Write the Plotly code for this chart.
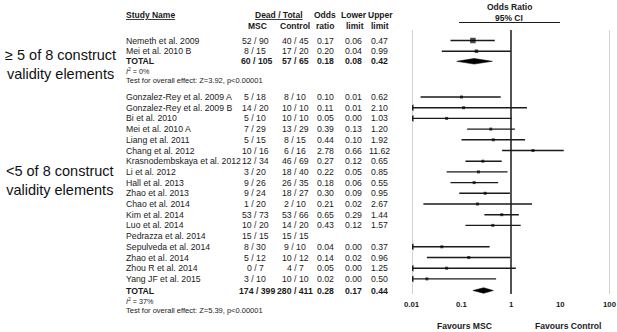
import numpy as np
import plotly.graph_objects as go

W, H = 617, 332
FONT = "Liberation Sans, Arial, sans-serif"
INK = "#1a1a1a"

# ---------------- data ----------------
# group 1: >= 5 of 8 construct validity elements
g1_study = ["Nemeth et al. 2009", "Mei et al. 2010 B"]
g1_msc_dead = [52, 8]
g1_msc_total = [90, 15]
g1_ctl_dead = [40, 17]
g1_ctl_total = [45, 20]
g1_or = [0.17, 0.20]
g1_lo = [0.06, 0.04]
g1_hi = [0.47, 0.99]

# group 2: <5 of 8 construct validity elements
g2_study = ["Gonzalez-Rey et al. 2009 A", "Gonzalez-Rey et al. 2009 B", "Bi et al. 2010",
            "Mei et al. 2010 A", "Liang et al. 2011", "Chang et al. 2012",
            "Krasnodembskaya et al. 2012", "Li et al. 2012", "Hall et al. 2013",
            "Zhao et al. 2013", "Chao et al. 2014", "Kim et al. 2014", "Luo et al. 2014",
            "Pedrazza et al. 2014", "Sepulveda et al. 2014", "Zhao et al. 2014",
            "Zhou R et al. 2014", "Yang JF et al. 2015"]
g2_msc_dead = [5, 14, 5, 7, 5, 10, 12, 3, 9, 9, 1, 53, 10, 15, 8, 5, 0, 3]
g2_msc_total = [18, 20, 10, 29, 15, 16, 34, 20, 26, 24, 20, 73, 20, 15, 30, 12, 7, 10]
g2_ctl_dead = [8, 10, 10, 13, 8, 6, 46, 18, 26, 18, 2, 53, 14, 15, 9, 10, 4, 10]
g2_ctl_total = [10, 10, 10, 29, 15, 16, 69, 40, 35, 27, 10, 66, 20, 15, 10, 12, 7, 10]
g2_or = [0.10, 0.11, 0.05, 0.39, 0.44, 2.78, 0.27, 0.22, 0.18, 0.30, 0.21, 0.65, 0.43,
         None, 0.04, 0.14, 0.05, 0.02]
g2_lo = [0.0149, 0.0057, 0.002, 0.13, 0.10, 0.66, 0.12, 0.05, 0.06, 0.09, 0.017, 0.29, 0.12,
         None, 0.004, 0.02, 0.002, 0.001]
g2_hi = [0.62, 2.10, 1.03, 1.20, 1.92, 11.62, 0.65, 0.85, 0.55, 0.95, 2.67, 1.44, 1.57,
         None, 0.37, 0.96, 1.25, 0.50]

# totals
tot_msc_dead = [60, 174]
tot_msc_total = [105, 399]
tot_ctl_dead = [57, 280]
tot_ctl_total = [65, 411]
tot_or = [0.18, 0.28]
tot_lo = [0.08, 0.17]
tot_hi = [0.42, 0.44]
tot_i2 = ["0%", "37%"]
tot_test = ["Z=3.92, p<0.00001", "Z=5.39, p<0.00001"]

group_labels = ["\u2265 5 of 8 construct<br>validity elements",
                "<5 of 8 construct<br>validity elements"]
tick_vals = [0.01, 0.1, 1, 10, 100]
tick_text = ["0.01", "0.1", "1", "10", "100"]

# ---------------- layout helpers (pixel rows) ----------------
STEP = 10.7
g1_y = [40.5 + STEP * i for i in range(len(g1_study))]
g2_y = [97 + STEP * i for i in range(len(g2_study))]
tot_y = [61.3, 290.5]
i2_y = [71, 300.5]
test_y = [80.5, 310.5]

COL_MSC, COL_CTL, COL_OR, COL_LO, COL_HI = 255, 295, 325, 354, 379

annotations = []


def txt(x, y, s, size=8.7, anchor="left", color=INK, xref="paper", underline=False):
    if not s:
        return
    f = dict(family=FONT, size=size, color=color)
    if underline:
        f["lineposition"] = "under"
    annotations.append(dict(x=x / W if xref == "paper" else x, y=y, xref=xref, yref="y",
                            text=s, showarrow=False, xanchor=anchor, yanchor="middle",
                            borderpad=0, font=f))


def fmt(v):
    return "" if v is None else f"{v:.2f}"


# headers
txt(125, 15, "<b>Study Name</b>", size=8.5, underline=True)
txt(279, 15, "<b>Dead / Total</b>", size=8.5, anchor="center", underline=True)
txt(COL_MSC + 2, 25.5, "<b>MSC</b>", size=8.5, anchor="center")
txt(COL_CTL, 25.5, "<b>Control</b>", size=8.5, anchor="center")
txt(COL_OR, 15, "<b>Odds</b>", size=8.5, anchor="center")
txt(COL_OR, 25.5, "<b>ratio</b>", size=8.5, anchor="center")
txt(COL_LO, 15, "<b>Lower</b>", size=8.5, anchor="center")
txt(COL_LO + 1, 25.5, "<b>limit</b>", size=8.5, anchor="center")
txt(COL_HI + 1, 15, "<b>Upper</b>", size=8.5, anchor="center")
txt(COL_HI + 1, 25.5, "<b>limit</b>", size=8.5, anchor="center")
txt(509, 6.5, "<b>Odds Ratio</b>", size=8.5, anchor="center")
txt(509, 17.5, "<b>95% CI</b>", size=8.5, anchor="center")

# group labels
txt(60, 64.5, group_labels[0], size=14.5, anchor="center", color="#111")
txt(60, 180, group_labels[1], size=14.5, anchor="center", color="#111")


def table_rows(studies, md, mt, cd, ct, orv, lo, hi, ys):
    for s, a, b, c, d, o, l, h, y in zip(studies, md, mt, cd, ct, orv, lo, hi, ys):
        txt(125, y, s)
        txt(COL_MSC, y, f"{a} / {b}", anchor="center")
        txt(COL_CTL, y, f"{c} / {d}", anchor="center")
        txt(COL_OR, y, fmt(o), anchor="center")
        txt(COL_LO, y, fmt(l), anchor="center")
        txt(COL_HI, y, fmt(h), anchor="center")


table_rows(g1_study, g1_msc_dead, g1_msc_total, g1_ctl_dead, g1_ctl_total,
           g1_or, g1_lo, g1_hi, g1_y)
table_rows(g2_study, g2_msc_dead, g2_msc_total, g2_ctl_dead, g2_ctl_total,
           g2_or, g2_lo, g2_hi, g2_y)

for k in range(2):
    y = tot_y[k]
    txt(125, y, "<b>TOTAL</b>")
    txt(COL_MSC + 2, y, f"<b>{tot_msc_dead[k]} / {tot_msc_total[k]}</b>", anchor="center")
    txt(COL_CTL, y, f"<b>{tot_ctl_dead[k]} / {tot_ctl_total[k]}</b>", anchor="center")
    txt(COL_OR, y, f"<b>{fmt(tot_or[k])}</b>", anchor="center")
    txt(COL_LO, y, f"<b>{fmt(tot_lo[k])}</b>", anchor="center")
    txt(COL_HI, y, f"<b>{fmt(tot_hi[k])}</b>", anchor="center")
    txt(125, i2_y[k], f"<i>I</i><sup>2</sup> = {tot_i2[k]}", size=7.2)
    txt(125, test_y[k], f"Test for overall effect: {tot_test[k]}", size=7.5)

# axis tick labels and favours labels
for v, t in zip(tick_vals, tick_text):
    txt(float(np.log10(v)), 304, f"<b>{t}</b>", size=7.8, anchor="center", xref="x")
txt(464, 326, "<b>Favours MSC</b>", size=8.6, anchor="center")
txt(568, 326, "<b>Favours Control</b>", size=8.6, anchor="center")

# ---------------- traces ----------------
fig = go.Figure()
XMIN, XMAX = tick_vals[0], tick_vals[-1]

# boundary grey lines and null line
for xv, col in [(XMIN, "#c4c4c4"), (XMAX, "#c4c4c4"), (1, INK)]:
    fig.add_trace(go.Scatter(x=[xv, xv], y=[30, 294], mode="lines",
                             line=dict(color=col, width=1.5), hoverinfo="skip"))

all_or = g1_or + g2_or
all_lo = g1_lo + g2_lo
all_hi = g1_hi + g2_hi
all_y = g1_y + g2_y

cx, cy, ax_, ay_, px_, py_, ps = [], [], [], [], [], [], []
sizes = [5.5, 3.5] + [3] * len(g2_y)
for o, l, h, y, s in zip(all_or, all_lo, all_hi, all_y, sizes):
    if o is None:
        continue
    cx += [max(l, XMIN), min(h, XMAX), None]
    cy += [y, y, None]
    if l < XMIN:
        ax_.append(XMIN)
        ay_.append(y)
    px_.append(o)
    py_.append(y)
    ps.append(s)

fig.add_trace(go.Scatter(x=cx, y=cy, mode="lines", line=dict(color=INK, width=1.4),
                         hoverinfo="skip"))
fig.add_trace(go.Scatter(x=ax_, y=ay_, mode="markers",
                         marker=dict(symbol="triangle-left", size=6, color=INK),
                         hoverinfo="skip"))
fig.add_trace(go.Scatter(x=px_, y=py_, mode="markers",
                         marker=dict(symbol="square", size=ps, color="#000",
                                     line=dict(width=0)), hoverinfo="skip"))

# summary diamonds
for k in range(2):
    y = tot_y[k]
    fig.add_trace(go.Scatter(x=[tot_lo[k], tot_or[k], tot_hi[k], tot_or[k], tot_lo[k]],
                             y=[y, y - 2.8, y, y + 2.8, y], mode="lines", fill="toself",
                             fillcolor="#000", line=dict(color="#000", width=0.5),
                             hoverinfo="skip"))

# separator under the "95% CI" header
shapes = [dict(type="line", xref="paper", yref="y", x0=459 / W, x1=560 / W, y0=22.5, y1=22.5,
               line=dict(color=INK, width=1.2))]

fig.update_layout(
    width=W, height=H, margin=dict(l=0, r=0, t=0, b=0),
    paper_bgcolor="white", plot_bgcolor="white", showlegend=False,
    xaxis=dict(type="log", range=[np.log10(XMIN), np.log10(XMAX)],
               domain=[412 / W, 610 / W], visible=False),
    yaxis=dict(range=[H, 0], domain=[0, 1], visible=False),
    annotations=annotations, shapes=shapes,
)

fig.write_html("out.html", config={"displayModeBar": False},
               post_script="document.body.style.margin='0';"
                           "document.body.style.overflow='hidden';")
